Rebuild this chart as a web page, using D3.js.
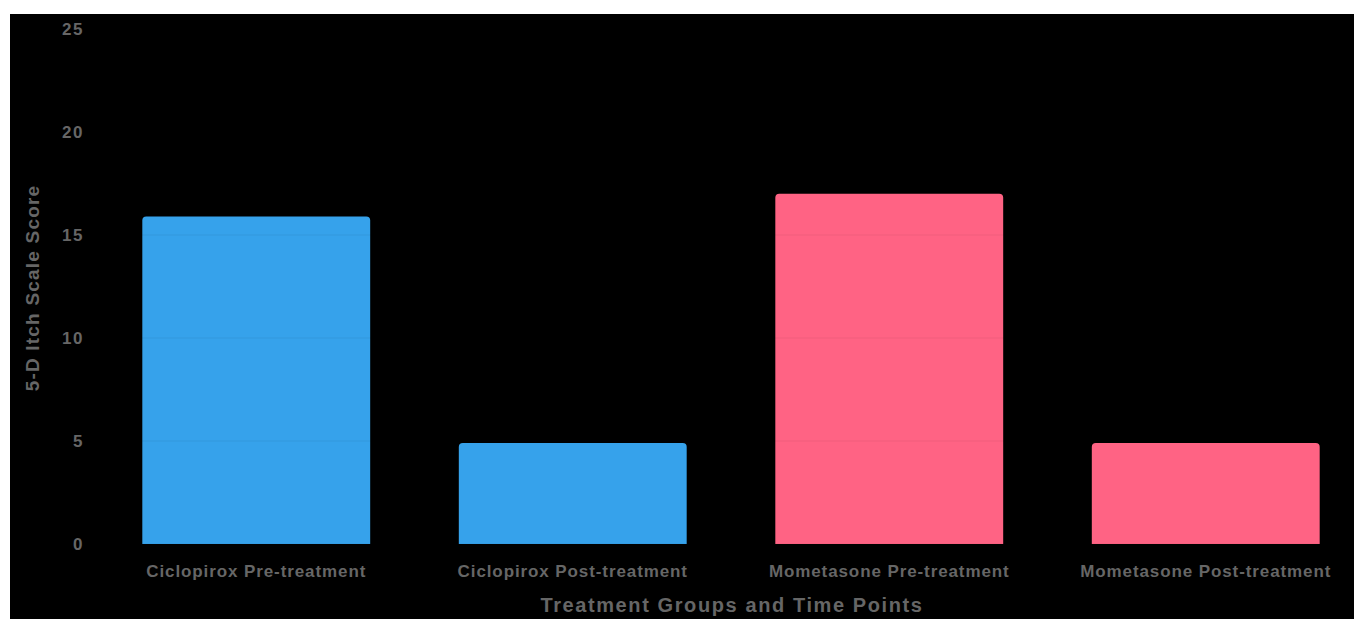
<!DOCTYPE html>
<html lang="en">
<head>
<meta charset="utf-8">
<title>5-D Itch Scale Score</title>
<script src="https://d3js.org/d3.v7.min.js"></script>
<style>
  html, body { margin: 0; padding: 0; background: #fff; }
  svg { display: block; }
</style>
</head>
<body>
<script>
// chart data
var categories = ["Ciclopirox Pre-treatment", "Ciclopirox Post-treatment", "Mometasone Pre-treatment", "Mometasone Post-treatment"];
var scores = [15.9, 4.9, 17.0, 4.9];
var barColors = ["#36a2eb", "#36a2eb", "#ff6384", "#ff6384"];
var yTicks = [0, 5, 10, 15, 20, 25];

var W = 1354, H = 619;
var fontFam = "'Liberation Sans', Arial, sans-serif";

var svg = d3.select("body").append("svg")
  .attr("width", W)
  .attr("height", H);

// dark panel
svg.append("rect")
  .attr("x", 10).attr("y", 14)
  .attr("width", W - 10).attr("height", H - 14)
  .attr("fill", "#000");

var x = d3.scaleBand()
  .domain(categories)
  .range([98, 1364])
  .paddingInner(0.28)
  .paddingOuter(0.14);

var y = d3.scaleLinear()
  .domain([0, 25])
  .range([544, 29]);

// bars
svg.selectAll(".bar")
  .data(scores)
  .enter()
  .append("path")
  .attr("class", "bar")
  .attr("fill", function (d, i) { return barColors[i]; })
  .attr("d", function (d, i) {
    var x0 = x(categories[i]), w = x.bandwidth();
    var y0 = y(d), y1 = y(0), r = 4;
    return "M" + x0 + "," + y1 +
      "V" + (y0 + r) + "Q" + x0 + "," + y0 + " " + (x0 + r) + "," + y0 +
      "H" + (x0 + w - r) + "Q" + (x0 + w) + "," + y0 + " " + (x0 + w) + "," + (y0 + r) +
      "V" + y1 + "Z";
  });

// faint grid lines (only show over the bars)
svg.selectAll(".grid")
  .data(yTicks)
  .enter()
  .append("line")
  .attr("x1", 98).attr("x2", 1364)
  .attr("y1", function (d) { return y(d); })
  .attr("y2", function (d) { return y(d); })
  .attr("stroke", "rgba(0,0,0,0.06)")
  .attr("stroke-width", 1);

// y axis
var yAxis = svg.append("g")
  .attr("transform", "translate(84,0)")
  .call(d3.axisLeft(y).tickValues(yTicks).tickSize(0).tickPadding(0));
yAxis.select(".domain").remove();
yAxis.selectAll("text")
  .attr("fill", "#666")
  .style("font-family", fontFam)
  .style("font-size", "17px")
  .style("letter-spacing", "1.5px")
  .style("font-weight", "bold");

// x axis
var xAxis = svg.append("g")
  .attr("transform", "translate(0,565)")
  .call(d3.axisBottom(x).tickSize(0).tickPadding(0));
xAxis.select(".domain").remove();
xAxis.selectAll("text")
  .attr("fill", "#666")
  .attr("dy", "0.71em")
  .style("font-family", fontFam)
  .style("font-size", "17px")
  .style("letter-spacing", "0.9px")
  .style("font-weight", "bold");

// axis titles
svg.append("text")
  .attr("x", 732).attr("y", 612)
  .attr("text-anchor", "middle")
  .attr("fill", "#666")
  .style("font-family", fontFam)
  .style("font-size", "20px")
  .style("letter-spacing", "1.6px")
  .style("font-weight", "bold")
  .text("Treatment Groups and Time Points");

svg.append("text")
  .attr("transform", "translate(39,288) rotate(-90)")
  .attr("text-anchor", "middle")
  .attr("fill", "#666")
  .style("font-family", fontFam)
  .style("font-size", "19px")
  .style("letter-spacing", "1.2px")
  .style("font-weight", "bold")
  .text("5-D Itch Scale Score");
</script>
</body>
</html>
